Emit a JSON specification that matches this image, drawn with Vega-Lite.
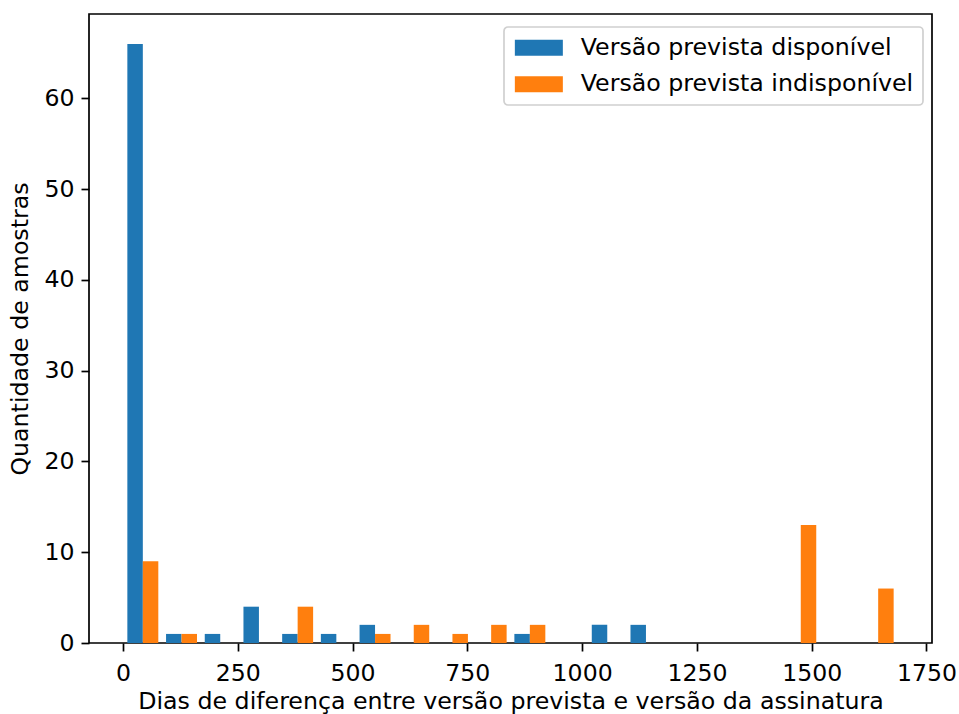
{
  "$schema": "https://vega.github.io/schema/vega-lite/v6.json",
  "width": 843,
  "height": 629,
  "autosize": {"type": "none"},
  "padding": {"left": 89, "top": 14, "right": 27, "bottom": 71},
  "background": "white",
  "config": {
    "font": "DejaVu Sans",
    "view": {"stroke": "black", "strokeWidth": 1.7},
    "axis": {
      "grid": false,
      "domain": false,
      "tickColor": "black",
      "tickSize": 8,
      "tickWidth": 1.7,
      "labelFont": "DejaVu Sans",
      "labelFontSize": 23.6,
      "labelColor": "black",
      "titleFont": "DejaVu Sans",
      "titleFontSize": 23.7,
      "titleFontWeight": "normal",
      "titleColor": "black"
    },
    "legend": {
      "orient": "none",
      "legendX": 415,
      "legendY": 13,
      "symbolType": "M-3,-1H3V1H-3Z",
      "symbolSize": 256,
      "symbolStrokeWidth": 0,
      "symbolOpacity": 1,
      "symbolOffset": 14,
      "labelFont": "DejaVu Sans",
      "labelFontSize": 23.7,
      "labelColor": "black",
      "labelOffset": 30,
      "labelLimit": 0,
      "rowPadding": 11.3,
      "padding": 9,
      "strokeColor": "#d0d0d0",
      "strokeWidth": 1.7,
      "fillColor": "rgba(255,255,255,0.8)",
      "cornerRadius": 4
    }
  },
  "data": {
    "values": [
      {"bin_start": 1, "bin_end": 85.3, "series": "Versão prevista disponível", "count": 66},
      {"bin_start": 1, "bin_end": 85.3, "series": "Versão prevista indisponível", "count": 9},
      {"bin_start": 85.3, "bin_end": 169.6, "series": "Versão prevista disponível", "count": 1},
      {"bin_start": 85.3, "bin_end": 169.6, "series": "Versão prevista indisponível", "count": 1},
      {"bin_start": 169.6, "bin_end": 253.9, "series": "Versão prevista disponível", "count": 1},
      {"bin_start": 253.9, "bin_end": 338.2, "series": "Versão prevista disponível", "count": 4},
      {"bin_start": 338.2, "bin_end": 422.5, "series": "Versão prevista disponível", "count": 1},
      {"bin_start": 338.2, "bin_end": 422.5, "series": "Versão prevista indisponível", "count": 4},
      {"bin_start": 422.5, "bin_end": 506.8, "series": "Versão prevista disponível", "count": 1},
      {"bin_start": 506.8, "bin_end": 591.1, "series": "Versão prevista disponível", "count": 2},
      {"bin_start": 506.8, "bin_end": 591.1, "series": "Versão prevista indisponível", "count": 1},
      {"bin_start": 591.1, "bin_end": 675.4, "series": "Versão prevista indisponível", "count": 2},
      {"bin_start": 675.4, "bin_end": 759.7, "series": "Versão prevista indisponível", "count": 1},
      {"bin_start": 759.7, "bin_end": 844, "series": "Versão prevista indisponível", "count": 2},
      {"bin_start": 844, "bin_end": 928.3, "series": "Versão prevista disponível", "count": 1},
      {"bin_start": 844, "bin_end": 928.3, "series": "Versão prevista indisponível", "count": 2},
      {"bin_start": 1012.6, "bin_end": 1096.9, "series": "Versão prevista disponível", "count": 2},
      {"bin_start": 1096.9, "bin_end": 1181.2, "series": "Versão prevista disponível", "count": 2},
      {"bin_start": 1434.1, "bin_end": 1518.4, "series": "Versão prevista indisponível", "count": 13},
      {"bin_start": 1602.7, "bin_end": 1687, "series": "Versão prevista indisponível", "count": 6}
    ]
  },
  "transform": [
    {"calculate": "datum.bin_end - datum.bin_start", "as": "bw"},
    {"calculate": "datum.bin_start + datum.bw * (datum.series === 'Versão prevista disponível' ? 0.1 : 0.5)", "as": "x0"},
    {"calculate": "datum.x0 + 0.4 * datum.bw", "as": "x1"}
  ],
  "mark": {"type": "rect"},
  "encoding": {
    "x": {
      "field": "x0",
      "type": "quantitative",
      "scale": {"domain": [-74.1, 1762.1], "nice": false, "zero": false},
      "axis": {
        "values": [0, 250, 500, 750, 1000, 1250, 1500, 1750],
        "format": "d",
        "labelPadding": 10,
        "title": "Dias de diferença entre versão prevista e versão da assinatura",
        "titlePadding": 5
      }
    },
    "x2": {"field": "x1"},
    "y": {
      "field": "count",
      "type": "quantitative",
      "scale": {"domain": [0, 69.3], "nice": false},
      "axis": {
        "values": [0, 10, 20, 30, 40, 50, 60],
        "labelPadding": 7,
        "title": "Quantidade de amostras",
        "titlePadding": 11
      }
    },
    "y2": {"datum": 0},
    "color": {
      "field": "series",
      "type": "nominal",
      "scale": {
        "domain": ["Versão prevista disponível", "Versão prevista indisponível"],
        "range": ["#1f77b4", "#ff7f0e"]
      },
      "legend": {"title": null}
    }
  }
}
